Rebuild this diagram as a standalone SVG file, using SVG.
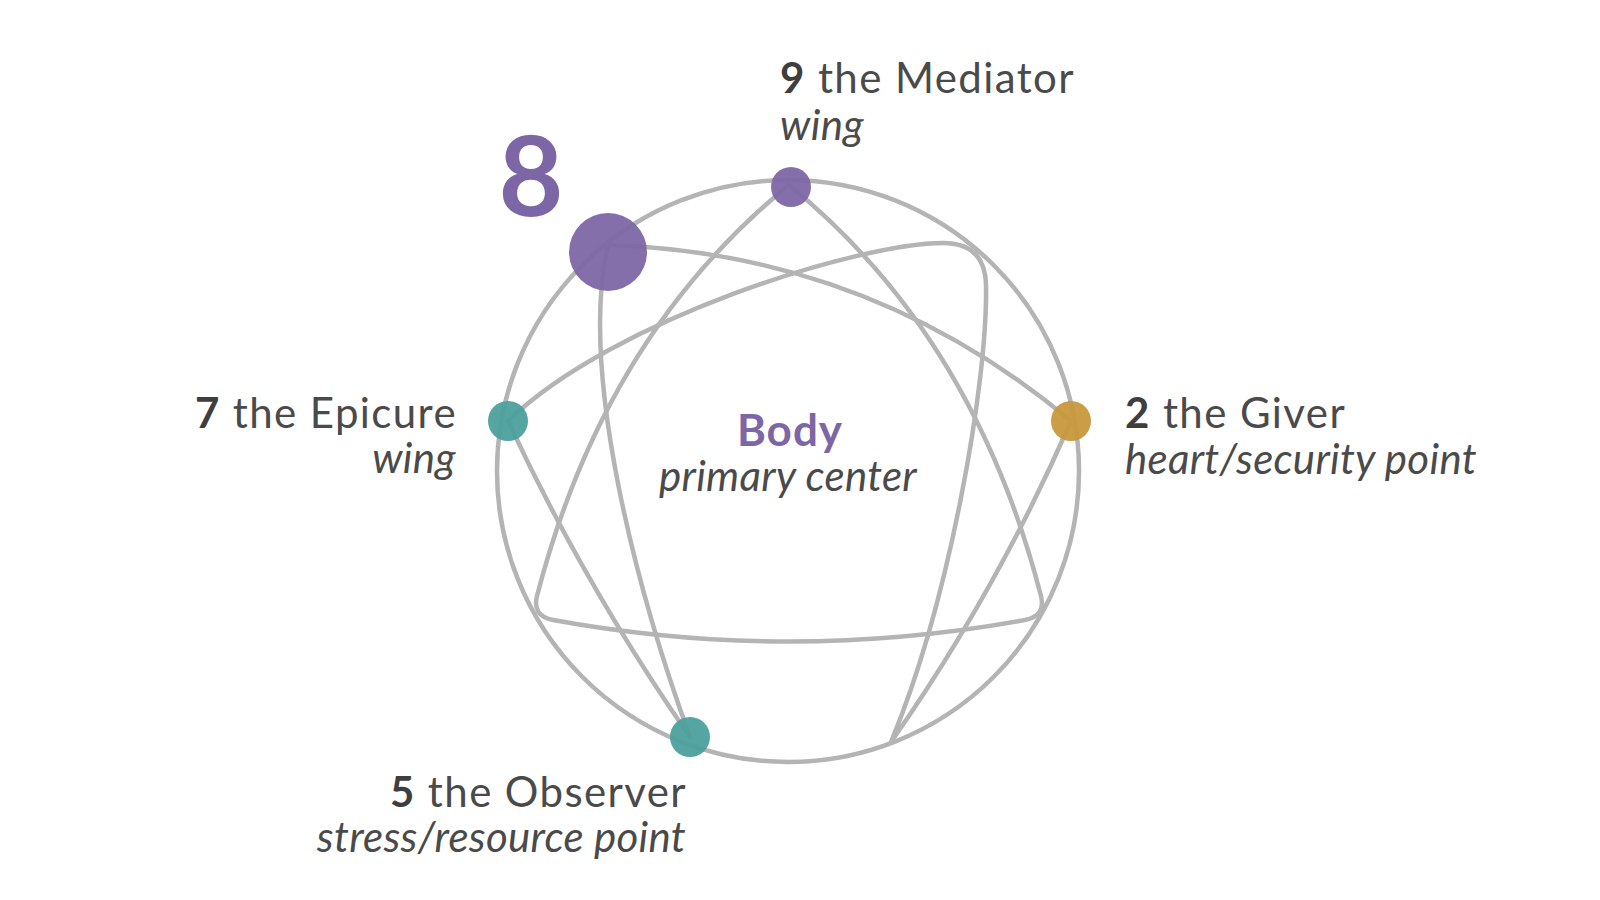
<svg xmlns="http://www.w3.org/2000/svg" width="1600" height="900" viewBox="0 0 1600 900">
<style>
.line{fill:none;stroke:#b4b4b4;stroke-width:4.5;stroke-linejoin:round;stroke-linecap:round}
.t{font-family:Lato,"Noto Sans","Liberation Sans",sans-serif;font-size:42px;fill:#4a4a4a;letter-spacing:1.4px}
.b{font-weight:700;fill:#3e3e3e}
.i{font-style:italic;letter-spacing:0.3px}
.purple{fill:#7d66a5}
.teal{fill:#4a9f9d}
.gold{fill:#c8973a}
.node{fill-opacity:0.94}
</style>
<rect width="1600" height="900" fill="#ffffff"/>
<g id="connectors">
<circle class="line" cx="788" cy="471" r="291"/>
<path class="line" d="M 789,185 C 928,298 1002,445 1041,596 Q 1046,616 1025,620 Q 789,663 553,620 Q 532,616 537,596 C 576,445 650,298 789,185 Z"/>
<path class="line" d="M 508,421 C 615,318 860,243 943,243 Q 985,243 986,285 C 988,380 950,600 891,742 Q 997,591 1071,421 Q 870,253 608,245 C 578,375 640,600 690,737 Q 585,586 508,421 Z"/>
</g>
<g id="node9"><circle class="node purple" cx="791" cy="187" r="20"/>
<text class="t" x="780" y="93"><tspan class="b">9</tspan> the Mediator</text>
<text class="t i" x="780" y="140">wing</text></g>
<g id="node8"><circle class="node purple" cx="608" cy="252" r="39"/>
<text class="t b" x="531" y="216" text-anchor="middle" style="font-size:112px;fill:#7d66a5;letter-spacing:0">8</text></g>
<g id="node7"><circle class="node teal" cx="508" cy="421" r="20"/>
<text class="t" x="457" y="428" text-anchor="end"><tspan class="b">7</tspan> the Epicure</text>
<text class="t i" x="456" y="473" text-anchor="end">wing</text></g>
<g id="node2"><circle class="node gold" cx="1071" cy="421" r="20"/>
<text class="t" x="1125" y="428"><tspan class="b">2</tspan> the Giver</text>
<text class="t i" x="1125" y="474">heart/security point</text></g>
<g id="node5"><circle class="node teal" cx="690" cy="737" r="20"/>
<text class="t" x="687" y="807" text-anchor="end"><tspan class="b">5</tspan> the Observer</text>
<text class="t i" x="686" y="852" text-anchor="end">stress/resource point</text></g>
<g id="center">
<text class="t b" x="790" y="446" text-anchor="middle" style="font-size:44px;fill:#7d66a5;letter-spacing:1px">Body</text>
<text class="t i" x="788" y="491" text-anchor="middle">primary center</text></g>
</svg>
